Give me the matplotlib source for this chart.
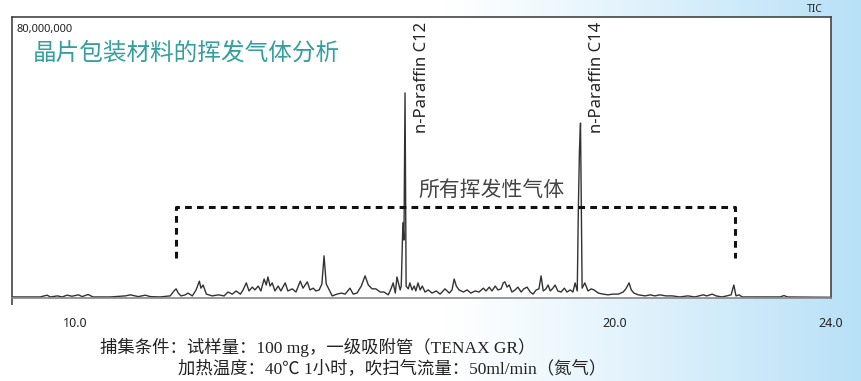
import matplotlib.pyplot as plt
import numpy as np

plt.rcParams['font.family'] = ['Noto Sans', 'Noto Sans CJK SC', 'DejaVu Sans']

# retention time (min) and TIC intensity (millions of counts)
rt = [8.83, 9.35, 9.48, 9.54, 9.67, 9.76, 9.85, 9.94, 10.06, 10.13, 10.24, 10.33,
      10.65, 10.93, 11.02, 11.17, 11.30, 11.39, 11.57, 11.76, 11.83, 11.87, 11.91,
      11.96, 12.04, 12.09, 12.17, 12.24, 12.30, 12.33, 12.37, 12.43, 12.54, 12.65,
      12.76, 12.83, 12.91, 12.98, 13.06, 13.11, 13.17, 13.22, 13.28, 13.33, 13.39,
      13.44, 13.50, 13.54, 13.57, 13.61, 13.65, 13.70, 13.76, 13.81, 13.89, 13.94,
      14.02, 14.09, 14.17, 14.22, 14.30, 14.35, 14.41, 14.46, 14.52, 14.57, 14.61,
      14.65, 14.69, 14.76, 14.85, 14.93, 15.00, 15.09, 15.15, 15.22, 15.30, 15.37,
      15.43, 15.50, 15.57, 15.65, 15.72, 15.80, 15.85, 15.89, 15.93, 15.96, 16.02,
      16.04, 16.07, 16.09, 16.11, 16.13, 16.17, 16.20, 16.24, 16.28, 16.31, 16.35,
      16.39, 16.43, 16.48, 16.54, 16.61, 16.69, 16.76, 16.85, 16.93, 16.98, 17.02,
      17.06, 17.11, 17.19, 17.26, 17.33, 17.41, 17.48, 17.56, 17.61, 17.67, 17.72,
      17.78, 17.83, 17.89, 17.93, 17.96, 18.00, 18.04, 18.09, 18.15, 18.20, 18.26,
      18.31, 18.37, 18.43, 18.48, 18.54, 18.59, 18.63, 18.67, 18.72, 18.76, 18.80,
      18.85, 18.89, 18.94, 19.00, 19.06, 19.11, 19.17, 19.22, 19.26, 19.30, 19.32,
      19.34, 19.36, 19.39, 19.44, 19.50, 19.56, 19.61, 19.69, 19.78, 19.87, 19.96,
      20.06, 20.15, 20.20, 20.26, 20.30, 20.35, 20.43, 20.56, 20.65, 20.74, 20.83,
      20.94, 21.06, 21.20, 21.35, 21.48, 21.63, 21.70, 21.80, 21.87, 21.98, 22.07,
      22.15, 22.20, 22.24, 22.30, 22.35, 22.69, 23.06, 23.13, 23.19, 24.00]
tic = [0.3, 0.3, 0.8, 0.3, 0.6, 0.3, 0.8, 0.5, 0.9, 0.4, 1.0, 0.3,
       0.3, 0.6, 0.9, 0.4, 0.8, 0.4, 0.3, 0.6, 2.0, 2.6, 1.4,
       0.6, 0.9, 1.4, 0.6, 2.3, 4.8, 2.8, 3.7, 1.1, 0.6, 0.9,
       0.6, 1.7, 1.1, 2.0, 1.1, 2.3, 4.3, 2.0, 3.1, 2.3, 3.4,
       2.0, 5.4, 3.7, 6.0, 3.4, 4.3, 2.0, 3.4, 2.0, 4.3, 2.0,
       2.6, 1.7, 4.8, 2.8, 4.6, 2.3, 2.8, 2.0, 2.3, 4.0, 12.0,
       4.0, 2.8, 0.6, 1.1, 1.4, 1.1, 2.8, 1.1, 1.4, 3.4, 6.3,
       3.7, 2.6, 2.6, 1.7, 1.7, 0.9, 2.6, 4.3, 1.4, 6.0, 2.3,
       3.4, 21.4, 16.5, 58.4, 3.4, 2.6, 4.3, 2.3, 3.4, 2.0, 4.3,
       2.3, 3.4, 1.7, 2.3, 1.4, 2.0, 1.1, 2.6, 1.4, 2.3, 5.4,
       3.4, 2.3, 1.7, 2.3, 1.4, 2.0, 1.7, 2.8, 2.0, 3.1, 2.0,
       3.4, 2.3, 2.6, 4.3, 4.6, 3.1, 3.7, 1.7, 2.3, 3.1, 1.7,
       2.6, 3.1, 1.7, 1.1, 2.3, 2.6, 6.3, 2.0, 2.6, 3.7, 2.0,
       2.8, 3.7, 2.0, 1.7, 2.8, 1.7, 2.3, 1.7, 4.3, 2.0, 25.1,
       41.6, 49.8, 2.8, 4.3, 2.0, 2.6, 2.3, 1.4, 1.1, 0.9, 1.1,
       1.1, 1.7, 2.6, 4.3, 2.3, 1.4, 0.9, 0.6, 0.9, 0.6, 0.9,
       0.6, 0.6, 0.3, 0.6, 0.3, 0.9, 0.6, 1.1, 0.6, 0.3, 0.6,
       0.9, 3.7, 0.6, 0.9, 0.3, 0.3, 0.3, 0.7, 0.3, 0.2]

peak_names = ['n-Paraffin C12', 'n-Paraffin C14']
peak_label_rt = [16.43, 19.67]

x_ticks = [10.0, 20.0, 24.0]
x_tick_labels = ['10.0', '20.0', '24.0']
x_min, x_max = 8.83, 24.0
y_max = 80  # millions -> "80,000,000"

# range of the "all volatile gases" bracket
bracket_rt = [11.87, 22.22]
bracket_level = 25.9
bracket_foot = 11.4

fig = plt.figure(figsize=(8.62, 3.81), dpi=100)

# background: white fading into light blue on the right
bg = fig.add_axes([0, 0, 1, 1], zorder=-10)
g = np.linspace(0, 1, 500)
r = np.clip((g - 0.52) / 0.48, 0, 1) ** 1.1
blue = np.array([0.72, 0.88, 0.97])
img = (1 - r)[:, None] * np.ones(3) + r[:, None] * blue
bg.imshow(img[None, :, :], aspect='auto', extent=[0, 1, 0, 1])
bg.set_axis_off()

ax = fig.add_axes([12 / 862, 1 - 298 / 381, 819 / 862, 281 / 381])
ax.set_facecolor('white')
ax.plot(rt, tic, color='#333333', lw=1.0)
ax.set_xlim(x_min, x_max)
ax.set_ylim(0, y_max)

# dashed bracket
ax.plot([bracket_rt[0], bracket_rt[0], bracket_rt[1], bracket_rt[1]],
        [bracket_foot, bracket_level, bracket_level, bracket_foot],
        color='#111111', lw=2.2, linestyle=(0, (2.2, 1.7)))

for spine in ['top', 'left', 'right']:
    ax.spines[spine].set_color('#444444')
    ax.spines[spine].set_linewidth(1.2)
ax.spines['bottom'].set_color('#888888')
ax.spines['bottom'].set_linewidth(1.2)

ax.set_yticks([])
ax.set_xticks(x_ticks)
ax.set_xticklabels(x_tick_labels, fontsize=9, color='#222222')
ax.tick_params(axis='x', which='major', length=0, pad=14)
ax.set_xticks([x_min, x_max], minor=True)
ax.tick_params(axis='x', which='minor', length=5, width=1.2, color='#444444')

ax.text(0.006, 0.955, '80,000,000', transform=ax.transAxes, fontsize=8,
        color='#222222', va='center', ha='left')
ax.text(0.026, 0.872, '晶片包装材料的挥发气体分析', transform=ax.transAxes,
        fontsize=17, color='#33a09e', va='center', ha='left',
        family=['Noto Sans CJK SC', 'DejaVu Sans'])

for name, x in zip(peak_names, peak_label_rt):
    ax.text(x, 78.6, name, rotation=90, fontsize=12, color='#222222',
            ha='center', va='top')

ax.text(16.36, 30.7, '所有挥发性气体', fontsize=15, color='#444444',
        ha='left', va='center', family=['Noto Sans CJK SC', 'DejaVu Sans'])

fig.text(815 / 862, 1 - 10 / 381, 'TIC', fontsize=7.5, color='#222222',
         ha='center', va='center')

cond_font = ['Liberation Serif', 'Noto Sans CJK SC']
fig.text(100 / 862, 1 - 347 / 381, '捕集条件：试样量：100 mg，一级吸附管（TENAX GR）',
         fontsize=12.5, color='#222222', ha='left', va='center', family=cond_font)
fig.text(178 / 862, 1 - 369 / 381, '加热温度：40℃ 1小时，吹扫气流量：50ml/min（氮气）',
         fontsize=12.5, color='#222222', ha='left', va='center', family=cond_font)

fig.savefig('out.png', dpi=100)
